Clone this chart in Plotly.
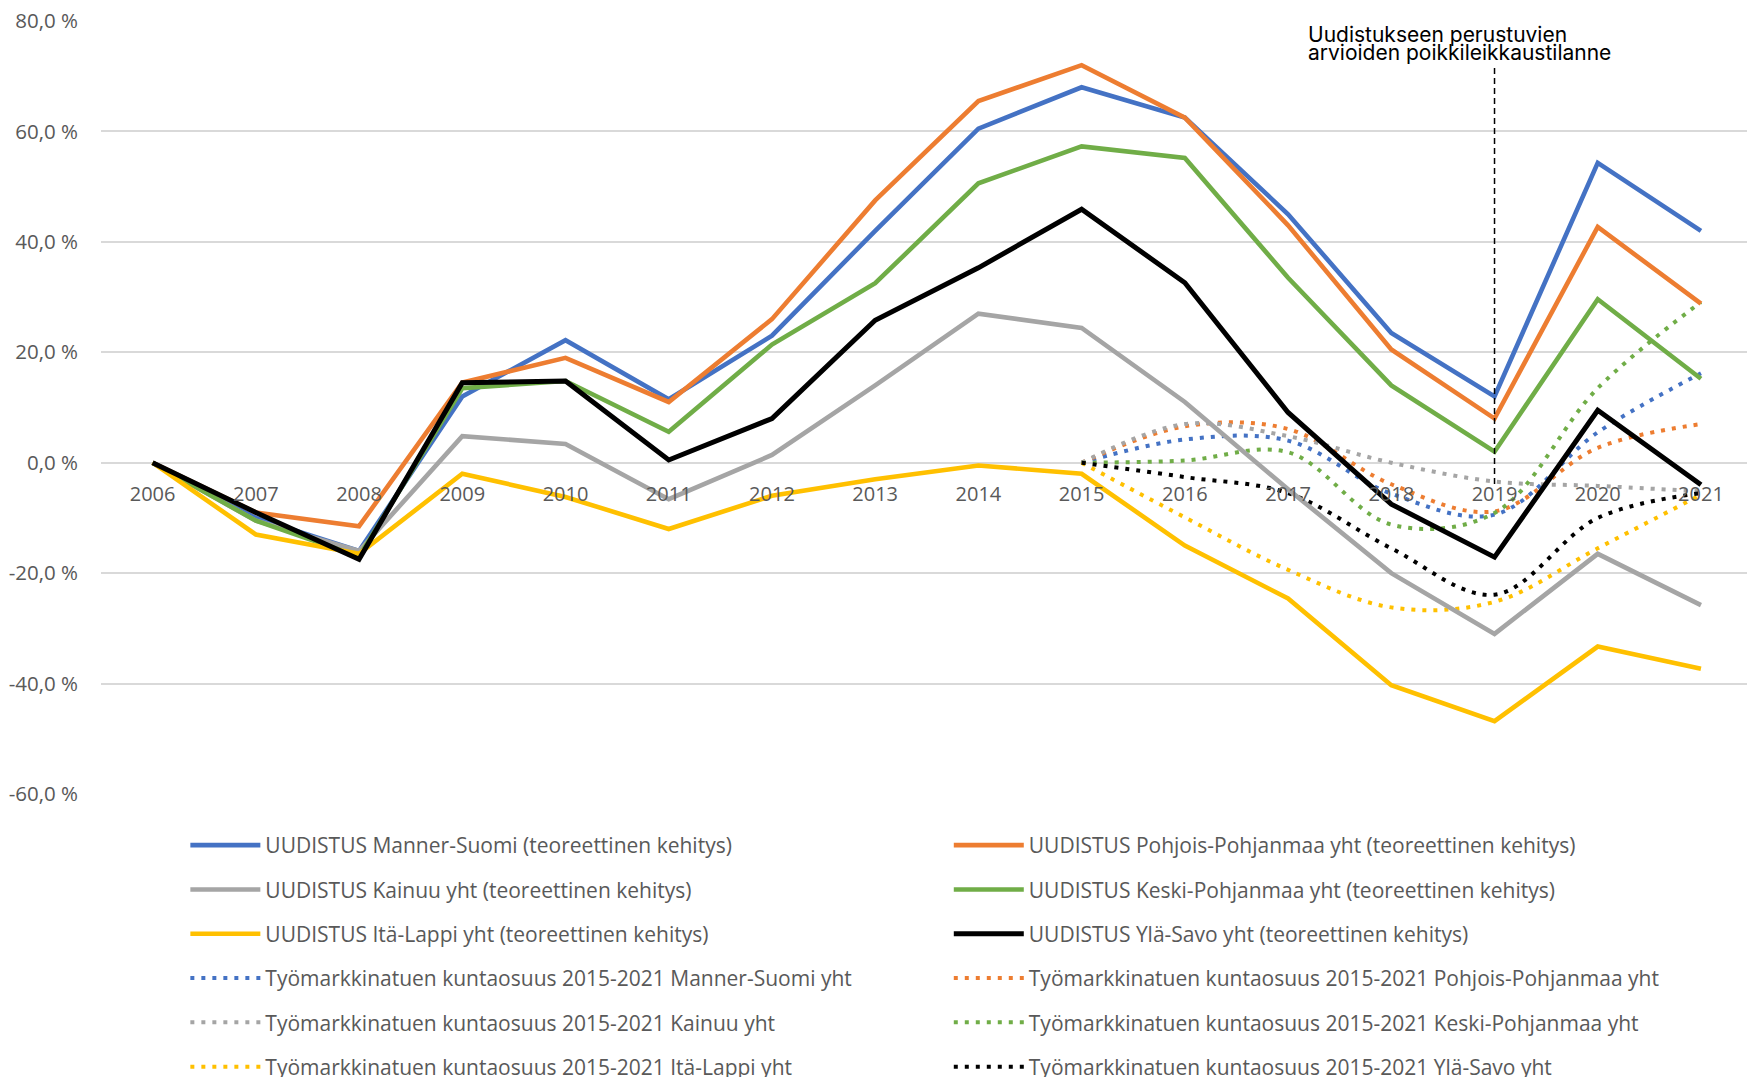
import plotly.graph_objects as go

years = [str(y) for y in range(2006, 2022)]
years_dotted = [str(y) for y in range(2015, 2022)]

# Solid series (UUDISTUS ... teoreettinen kehitys), values in %
manner_suomi = [0, -10, -16, 12, 22.2, 11.5, 23, 42, 60.5, 68, 62.5, 45, 23.5, 12, 54.3, 42]
pohjois_pohjanmaa = [0, -9, -11.5, 14.5, 19, 11, 26, 47.5, 65.5, 72, 62.5, 43, 20.5, 8, 42.7, 28.8]
kainuu = [0, -10.5, -16, 4.8, 3.4, -6.6, 1.4, 14, 27, 24.4, 11, -4.8, -20, -31, -16.5, -25.8]
keski_pohjanmaa = [0, -10.5, -17, 13.5, 14.8, 5.6, 21.4, 32.5, 50.6, 57.3, 55.2, 33.5, 14, 2, 29.6, 15.2]
ita_lappi = [0, -13, -16.5, -2, -6.2, -12, -6, -3, -0.5, -2, -15, -24.6, -40.3, -46.8, -33.3, -37.3]
yla_savo = [0, -9, -17.5, 14.5, 14.8, 0.5, 8, 25.8, 35.3, 45.9, 32.6, 9.1, -7.5, -17.1, 9.5, -4]

# Dotted series (Työmarkkinatuen kuntaosuus 2015-2021), values in %
tm_manner_suomi = [0, 4.2, 4.0, -5.6, -9.4, 5.5, 16.2]
tm_pohjois_pohjanmaa = [0, 6.6, 6.1, -3.9, -8.8, 2.7, 7.0]
tm_kainuu = [0, 7.0, 4.8, 0, -3.4, -4.2, -5.2]
tm_keski_pohjanmaa = [0, 0.4, 1.9, -11.2, -9.1, 13.5, 29.1]
tm_ita_lappi = [0, -9.9, -19.4, -26.2, -25.2, -15.5, -5.8]
tm_yla_savo = [0, -2.6, -5.5, -15.5, -23.9, -10.0, -5.5]

y_ticks = [-60, -40, -20, 0, 20, 40, 60, 80]
y_tick_labels = ["-60,0 %", "-40,0 %", "-20,0 %", "0,0 %", "20,0 %", "40,0 %", "60,0 %", "80,0 %"]

names_solid = [
    "UUDISTUS Manner-Suomi (teoreettinen kehitys)",
    "UUDISTUS Pohjois-Pohjanmaa yht (teoreettinen kehitys)",
    "UUDISTUS Kainuu yht (teoreettinen kehitys)",
    "UUDISTUS Keski-Pohjanmaa yht (teoreettinen kehitys)",
    "UUDISTUS Itä-Lappi yht (teoreettinen kehitys)",
    "UUDISTUS Ylä-Savo yht (teoreettinen kehitys)",
]
names_dotted = [
    "Työmarkkinatuen kuntaosuus 2015-2021 Manner-Suomi yht",
    "Työmarkkinatuen kuntaosuus 2015-2021 Pohjois-Pohjanmaa yht",
    "Työmarkkinatuen kuntaosuus 2015-2021 Kainuu yht",
    "Työmarkkinatuen kuntaosuus 2015-2021 Keski-Pohjanmaa yht",
    "Työmarkkinatuen kuntaosuus 2015-2021 Itä-Lappi yht",
    "Työmarkkinatuen kuntaosuus 2015-2021 Ylä-Savo yht",
]
colors = ["#4472C4", "#ED7D31", "#A5A5A5", "#70AD47", "#FFC000", "#000000"]
solid_data = [manner_suomi, pohjois_pohjanmaa, kainuu, keski_pohjanmaa, ita_lappi, yla_savo]
dotted_data = [tm_manner_suomi, tm_pohjois_pohjanmaa, tm_kainuu, tm_keski_pohjanmaa, tm_ita_lappi, tm_yla_savo]

# Legend column assignment: even index -> left column, odd -> right
legend_for = ["legend", "legend2", "legend", "legend2", "legend", "legend2"]

FONT = "Open Sans"
GRAY_TXT = "#595959"

fig = go.Figure()

# dotted first (drawn beneath solid lines)
dotted_traces = []
for i in range(6):
    dotted_traces.append(go.Scatter(
        x=years_dotted, y=dotted_data[i], name=names_dotted[i], mode="lines",
        line=dict(color=colors[i], width=4, dash="4px,7px", shape="spline", smoothing=1.0),
        legend=legend_for[i], legendgroup="d%d" % i, legendrank=100 + i,
        hoverinfo="skip",
    ))
solid_traces = []
for i in range(6):
    solid_traces.append(go.Scatter(
        x=years, y=solid_data[i], name=names_solid[i], mode="lines",
        line=dict(color=colors[i], width=5 if i == 5 else 4.6),
        legend=legend_for[i], legendgroup="s%d" % i, legendrank=i,
        hoverinfo="skip",
    ))
for t in dotted_traces + solid_traces:
    fig.add_trace(t)

# Vertical dashed marker at 2019 (category index 13)
fig.add_shape(type="line", xref="x", yref="y", x0=13, x1=13, y0=71.5, y1=-4,
              line=dict(color="#000000", width=1.5, dash="6px,4px"), layer="above")

fig.add_annotation(text="Uudistukseen perustuvien", xref="paper", yref="paper",
                   x=0.7321, y=0.9825, xanchor="left", yanchor="middle", showarrow=False,
                   font=dict(family="Inter", size=21, color="#000000"))
fig.add_annotation(text="arvioiden poikkileikkaustilanne", xref="paper", yref="paper",
                   x=0.7321, y=0.9595, xanchor="left", yanchor="middle", showarrow=False,
                   font=dict(family="Inter", size=21, color="#000000"))

legend_common = dict(
    orientation="v", yanchor="top", xanchor="left",
    xref="container", yref="container",
    font=dict(family=FONT, size=21, color=GRAY_TXT),
    bgcolor="rgba(0,0,0,0)", itemwidth=70, tracegroupgap=14,
    traceorder="grouped",
)

fig.update_layout(
    width=1747, height=1077,
    margin=dict(l=101, r=0, t=21, b=283, autoexpand=False),
    paper_bgcolor="white", plot_bgcolor="white",
    showlegend=True,
    legend=dict(x=0.1061, y=0.234, **legend_common),
    legend2=dict(x=0.5431, y=0.234, **legend_common),
    xaxis=dict(
        type="category", categoryorder="array", categoryarray=years,
        range=[-0.5, 15.446], anchor="free", position=60 / 140,
        showgrid=False, zeroline=False, showline=False, ticks="",
        ticklabelstandoff=17, automargin=False,
        tickfont=dict(family=FONT, size=20, color=GRAY_TXT),
    ),
    yaxis=dict(
        range=[-60, 80], tickvals=y_ticks, ticktext=y_tick_labels,
        showgrid=True, gridcolor="#D9D9D9", gridwidth=2,
        zeroline=True, zerolinecolor="#D9D9D9", zerolinewidth=2,
        showline=False, ticks="", ticklabelstandoff=22, automargin=False,
        tickfont=dict(family=FONT, size=20.5, color=GRAY_TXT),
    ),
)

fig.write_html("out.html",
               config={"displayModeBar": False},
               post_script="document.body.style.margin='0px';document.body.style.overflow='hidden';")
